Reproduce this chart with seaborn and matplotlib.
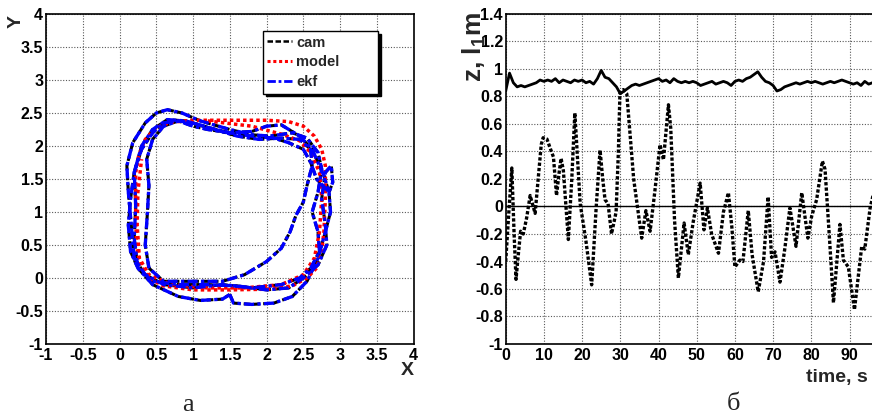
import numpy as np
import pandas as pd
import seaborn as sns
import matplotlib.pyplot as plt
from matplotlib.lines import Line2D
from matplotlib.ticker import MultipleLocator, FuncFormatter

sns.set_style("white")
plt.rcParams['font.family'] = ['Liberation Sans', 'DejaVu Sans']
plt.rcParams['font.weight'] = 'bold'
plt.rcParams['mathtext.fontset'] = 'custom'
plt.rcParams['mathtext.rm'] = 'Liberation Sans:bold'
plt.rcParams['mathtext.it'] = 'Liberation Sans:bold'
plt.rcParams['mathtext.bf'] = 'Liberation Sans:bold'

# ---- панель а: траектории (x, y), м ----
model_x1 = [0.22, 0.22, 0.26, 0.35, 0.5, 0.7, 1.0, 1.5, 2.0, 2.3, 2.5, 2.65, 2.75, 2.8, 2.8, 2.78, 2.75, 2.68, 2.55, 2.35, 2.0, 1.5, 1.0, 0.6, 0.4, 0.28, 0.23, 0.22]
model_y1 = [1.0, 1.6, 1.85, 2.1, 2.28, 2.36, 2.39, 2.39, 2.39, 2.37, 2.3, 2.15, 1.95, 1.7, 1.2, 0.7, 0.4, 0.15, 0.0, -0.12, -0.17, -0.18, -0.18, -0.12, 0.0, 0.2, 0.5, 1.0]
model_x2 = [1.2, 1.8, 2.2, 2.45, 2.6, 2.72, 2.75, 2.72, 2.65, 2.5, 2.2, 1.7, 1.2, 0.7, 0.4, 0.27, 0.24, 0.25, 0.3]
model_y2 = [2.38, 2.3, 2.18, 2.08, 1.9, 1.6, 1.2, 0.7, 0.3, 0.05, -0.1, -0.15, -0.15, -0.1, 0.05, 0.3, 0.8, 1.3, 1.8]

ekf_x1 = [0.2, 0.16, 0.12, 0.1, 0.18, 0.35, 0.5, 0.65, 0.85, 1.1, 1.5, 1.8, 2.05, 2.35, 2.55, 2.7, 2.75, 2.7, 2.62, 2.7, 2.72, 2.6, 2.45, 2.2, 1.8, 1.4, 1.0, 0.6, 0.35, 0.2]
ekf_y1 = [0.3, 0.8, 1.3, 1.7, 2.05, 2.35, 2.5, 2.55, 2.5, 2.38, 2.25, 2.17, 2.15, 2.2, 2.12, 1.9, 1.65, 1.3, 1.0, 0.7, 0.4, 0.15, 0.0, -0.1, -0.15, -0.1, -0.15, -0.1, 0.05, 0.3]
ekf_x2 = [0.25, 0.2, 0.22, 0.2, 0.3, 0.45, 0.65, 0.9, 1.2, 1.5, 1.8, 2.1, 2.3, 2.5, 2.6, 2.68, 2.85, 2.9, 2.88, 2.8, 2.75, 2.8, 2.82, 2.7, 2.5, 2.3, 2.0, 1.6, 1.2, 0.8, 0.45, 0.25]
ekf_y2 = [0.15, 0.6, 1.1, 1.6, 2.0, 2.25, 2.4, 2.38, 2.28, 2.2, 2.15, 2.12, 2.05, 1.95, 1.75, 1.5, 1.3, 1.45, 1.7, 1.6, 1.2, 0.8, 0.5, 0.2, 0.0, -0.15, -0.18, -0.12, -0.1, -0.1, -0.05, 0.15]
ekf_x3 = [0.4, 0.35, 0.38, 0.4, 0.37, 0.45, 0.6, 0.8, 1.0, 1.3, 1.6, 1.9, 2.2, 2.45, 2.6, 2.62, 2.55, 2.5, 2.4, 2.32, 2.2, 2.0, 1.7, 1.4, 1.0, 0.6, 0.4]
ekf_y3 = [0.15, 0.5, 1.0, 1.4, 1.8, 2.1, 2.3, 2.38, 2.35, 2.25, 2.15, 2.1, 2.12, 2.1, 1.95, 1.7, 1.4, 1.15, 0.95, 0.7, 0.45, 0.25, 0.05, -0.05, -0.05, -0.05, 0.15]
ekf_x4 = [1.5, 1.55, 1.8, 2.1, 2.35, 2.55, 2.7, 2.8, 2.87, 2.85, 2.78, 2.7, 2.62, 2.45, 2.2, 2.0, 1.8, 1.5, 1.2, 1.0, 0.8, 0.6, 0.45, 0.3, 0.2, 0.15, 0.12, 0.15, 0.25, 0.45, 0.8, 1.1, 1.4, 1.5]
ekf_y4 = [-0.25, -0.38, -0.4, -0.38, -0.28, -0.05, 0.3, 0.7, 1.0, 1.3, 1.55, 1.75, 1.95, 2.15, 2.32, 2.3, 2.22, 2.2, 2.25, 2.3, 2.38, 2.35, 2.2, 1.95, 1.6, 1.2, 0.8, 0.4, 0.15, -0.1, -0.28, -0.34, -0.32, -0.25]

# ---- панель б: z и l1 от времени ----
z_t = list(range(0, 98))
z_val = [0.84, 0.97, 0.90, 0.87, 0.88, 0.87, 0.88, 0.89, 0.90, 0.92, 0.91, 0.92, 0.91, 0.93, 0.90, 0.92, 0.91, 0.90, 0.92, 0.91,
         0.92, 0.90, 0.91, 0.89, 0.93, 0.99, 0.94, 0.93, 0.90, 0.87, 0.82, 0.84, 0.86, 0.88, 0.89, 0.88, 0.89, 0.90, 0.91, 0.92,
         0.93, 0.91, 0.92, 0.90, 0.93, 0.91, 0.90, 0.91, 0.90, 0.91, 0.90, 0.88, 0.89, 0.90, 0.91, 0.89, 0.90, 0.91, 0.90, 0.88,
         0.91, 0.92, 0.91, 0.93, 0.94, 0.96, 0.98, 0.94, 0.91, 0.90, 0.88, 0.84, 0.85, 0.87, 0.88, 0.89, 0.90, 0.89, 0.90, 0.91,
         0.90, 0.91, 0.90, 0.89, 0.90, 0.91, 0.90, 0.91, 0.92, 0.91, 0.90, 0.89, 0.90, 0.88, 0.91, 0.89, 0.90, 0.89]
l_t = [0, 0.8, 1.6, 2.2, 2.7, 3.3, 3.9, 4.6, 5.5, 6.4, 7.0, 7.7, 8.5, 9.3, 9.8, 10.8, 11.7, 12.5, 13.3, 14.0,
       14.5, 15.1, 16.4, 17.3, 18.1, 19.5, 21.0, 22.5, 23.7, 24.7, 25.4, 26.0, 26.8, 27.7, 28.9, 29.5, 29.9, 30.8, 31.7, 33.5,
       35.6, 36.7, 37.8, 39.0, 40.4, 41.3, 42.6, 43.2, 44.2, 45.2, 46.7, 47.8, 49.1, 50.9, 51.9, 52.8, 53.9, 55.7, 57.0, 58.3,
       59.2, 60.0, 61.3, 62.1, 63.5, 64.5, 66.1, 67.5, 68.7, 69.6, 70.5, 71.8, 73.1, 74.4, 76.0, 77.5, 79.1, 80.1, 81.4, 82.9,
       83.6, 84.8, 85.8, 87.5, 88.4, 89.7, 91.3, 93.2, 94.0, 95.4, 96.5]
l_val = [-0.40, -0.05, 0.28, -0.20, -0.53, -0.35, -0.18, -0.20, -0.08, 0.08, 0.02, -0.05, 0.20, 0.45, 0.50, 0.49, 0.42, 0.36, 0.08, 0.25,
         0.35, 0.26, -0.24, 0.20, 0.68, 0.02, -0.25, -0.57, 0.00, 0.41, 0.20, 0.05, 0.02, -0.20, -0.04, 0.40, 0.82, 0.85, 0.82, 0.20,
         -0.23, -0.03, -0.18, 0.10, 0.45, 0.34, 0.74, 0.57, -0.10, -0.52, -0.12, -0.35, -0.11, 0.17, -0.17, -0.01, -0.20, -0.34, -0.04, 0.10,
         -0.15, -0.44, -0.39, -0.40, -0.03, -0.35, -0.62, -0.40, 0.07, -0.37, -0.33, -0.55, -0.30, -0.01, -0.29, 0.10, -0.23, -0.07, 0.05, 0.33,
         0.27, -0.25, -0.70, -0.13, -0.39, -0.44, -0.75, -0.29, -0.31, -0.01, 0.12]

W, H = 872, 419
fig = plt.figure(figsize=(W / 100, H / 100), dpi=100)
ax1 = fig.add_axes([46 / W, 75 / H, 367.6 / W, 330 / H])
ax2 = fig.add_axes([505.7 / W, 75 / H, 382 / W, 330 / H])

fmt = FuncFormatter(lambda v, p: f"{round(v, 2):g}")


def root_style(ax):
    ax.grid(True, which='major', linestyle=(0, (1, 1.5)), color='0.35', lw=0.8)
    ax.tick_params(which='both', direction='in', top=False, right=False, labelsize=11.5, colors='black')
    ax.tick_params(which='major', length=8, width=1)
    ax.tick_params(which='minor', length=4, width=1)
    ax.tick_params(axis='x', pad=3)
    ax.tick_params(axis='y', pad=2)
    for s in ax.spines.values():
        s.set_color('black')
        s.set_linewidth(1.2)
    ax.xaxis.set_major_formatter(fmt)
    ax.yaxis.set_major_formatter(fmt)
    ax.set_xlabel('')
    ax.set_ylabel('')


cam_ls = (0, (2.2, 1.0))
model_ls = (0, (1.0, 0.9))
ekf_ls = (0, (3.0, 1.0, 1.0, 1.0))

loops = [(ekf_x1, ekf_y1), (ekf_x2, ekf_y2), (ekf_x3, ekf_y3), (ekf_x4, ekf_y4)]
# cam практически совпадает с ekf
for lx, ly in loops:
    sns.lineplot(x=lx, y=ly, sort=False, estimator=None, ax=ax1, color='black', lw=2.2, linestyle=cam_ls)
for lx, ly in [(model_x1, model_y1), (model_x2, model_y2)]:
    sns.lineplot(x=lx, y=ly, sort=False, estimator=None, ax=ax1, color='#ff0000', lw=2.5, linestyle=model_ls)
for lx, ly in loops:
    sns.lineplot(x=lx, y=ly, sort=False, estimator=None, ax=ax1, color='#0000ff', lw=2.4, linestyle=ekf_ls)

ax1.set_xlim(-1, 4)
ax1.set_ylim(-1, 4)
ax1.xaxis.set_major_locator(MultipleLocator(0.5))
ax1.yaxis.set_major_locator(MultipleLocator(0.5))
ax1.xaxis.set_minor_locator(MultipleLocator(0.1))
ax1.yaxis.set_minor_locator(MultipleLocator(0.1))
root_style(ax1)

handles = [Line2D([], [], color='black', lw=1.8, linestyle=cam_ls),
           Line2D([], [], color='#ff0000', lw=2.2, linestyle=model_ls),
           Line2D([], [], color='#0000ff', lw=2.0, linestyle=ekf_ls)]
ax1.legend(handles, ['cam', 'model', 'ekf'], loc='upper left', bbox_to_anchor=(0.59, 0.764, 0.313, 0.184),
           mode='expand', frameon=True, fancybox=False, edgecolor='black', framealpha=1, fontsize=10.5,
           handlelength=1.7, handletextpad=0.3, labelspacing=0.4, borderpad=0.3, borderaxespad=0,
           shadow={'facecolor': 'black', 'edgecolor': 'black', 'alpha': 1})

# панель б
ax2.axhline(0, color='black', lw=1.0)
sns.lineplot(x=l_t, y=l_val, sort=False, estimator=None, ax=ax2, color='black', lw=2.4, linestyle=(0, (1.0, 0.6)))
sns.lineplot(x=z_t, y=z_val, sort=False, estimator=None, ax=ax2, color='black', lw=2.0)
ax2.set_xlim(0, 100)
ax2.set_ylim(-1, 1.4)
ax2.xaxis.set_major_locator(MultipleLocator(10))
ax2.xaxis.set_minor_locator(MultipleLocator(2))
ax2.yaxis.set_major_locator(MultipleLocator(0.2))
ax2.yaxis.set_minor_locator(MultipleLocator(0.05))
root_style(ax2)

# подписи осей
fig.text(16 / W, 1 - 21 / H, 'Y', rotation=90, ha='center', va='center', fontsize=14)
fig.text(414 / W, 1 - 370 / H, 'X', ha='right', va='center', fontsize=14)
fig.text(474 / W, 1 - 12 / H, 'z, l$_1$m', rotation=90, ha='center', va='top', fontsize=19)
fig.text(806 / W, 1 - 377 / H, 'time, s', ha='left', va='center', fontsize=14)

fig.text(188 / W, 1 - 405 / H, 'а', ha='center', va='center', fontsize=19,
         family='Liberation Serif', weight='normal')
fig.text(733 / W, 1 - 404 / H, 'б', ha='center', va='center', fontsize=19,
         family='Liberation Serif', weight='normal')

fig.savefig('out.png', dpi=100)
